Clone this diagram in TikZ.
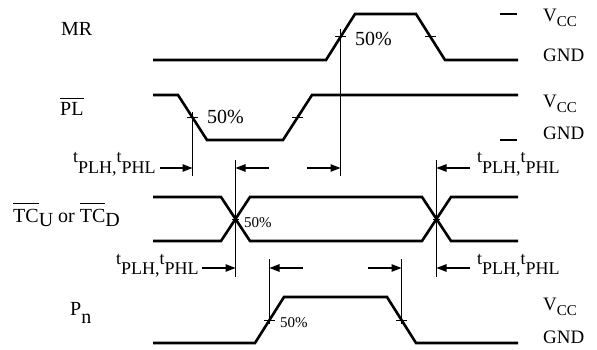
\documentclass[tikz,border=0pt]{standalone}
\usepackage{fontspec}
\setmainfont{Liberation Serif}
\usetikzlibrary{arrows.meta}
\newcommand\fs[1]{\fontsize{#1}{#1}\selectfont}
\newcommand\ovl[1]{\vbox{\hrule height 0.9pt\kern 4.5pt\hbox{#1}}}
\newcommand\tlab{\fs{18}t\raisebox{-10.5pt}{PLH,}t\raisebox{-10.5pt}{PHL}}
\newcommand\vcc{\fs{19}V\raisebox{-5pt}{\fs{15}CC}}
\begin{document}
\begin{tikzpicture}[x=1pt,y=-1pt,
  wave/.style={line width=2.6pt, line join=miter},
  refline/.style={line width=0.9pt},
  meas/.style={line width=1.1pt, -{Triangle[length=10pt,width=7.5pt]}},
  tickmark/.style={line width=1pt},
  lbl/.style={inner sep=0pt, anchor=base west},
]
\useasboundingbox (0,0) rectangle (597,350);

% waveforms
\draw[wave] (153,60) -- (326,60) -- (355,14) -- (416,14) -- (445,60) -- (518,60);
\draw[wave] (153,95) -- (178,95) -- (207,140) -- (283,140) -- (312,95) -- (518,95);
\draw[wave] (153,197) -- (221,197) -- (250,241) -- (422,241) -- (451,197) -- (518,197);
\draw[wave] (153,241) -- (221,241) -- (250,197) -- (422,197) -- (451,241) -- (518,241);
\draw[wave] (153,343) -- (255,343) -- (284,297) -- (387,297) -- (416,343) -- (518,343);

% 50% points
\coordinate (mrA) at (340.5,37);
\coordinate (mrB) at (430.5,37);
\coordinate (plA) at (192.5,117.5);
\coordinate (plB) at (297.5,117.5);
\coordinate (tcA) at (235.5,219);
\coordinate (tcB) at (436.5,219);
\coordinate (pnA) at (269.5,320);
\coordinate (pnB) at (401.5,320);

% ticks
\foreach \p in {mrA,mrB,plA,plB,pnA,pnB}
  \draw[tickmark] ([xshift=-5.5pt]\p) -- ([xshift=5.5pt]\p);
\foreach \p in {tcA,tcB}
  \draw[tickmark] ([xshift=-3.5pt]\p) -- ([xshift=3.5pt]\p);

% reference lines
\coordinate (v1t) at (192.5,112); \coordinate (v1b) at (192.5,176);
\coordinate (v2t) at (340.5,29);  \coordinate (v2b) at (340.5,176);
\coordinate (v3t) at (235.5,160); \coordinate (v3b) at (235.5,277);
\coordinate (v4t) at (436.5,160); \coordinate (v4b) at (436.5,277);
\coordinate (v5t) at (269.5,259); \coordinate (v5b) at (269.5,324);
\coordinate (v6t) at (401.5,259); \coordinate (v6b) at (401.5,324);
\foreach \i in {1,...,6} \draw[refline] (v\i t) -- (v\i b);

% measurement arrows
\coordinate (a1) at (160,168);  \coordinate (e1) at (192.5,168);
\coordinate (a2) at (269,168);  \coordinate (e2) at (235.5,168);
\coordinate (a3) at (307,168);  \coordinate (e3) at (340.5,168);
\coordinate (a4) at (470,168);  \coordinate (e4) at (436.5,168);
\coordinate (a5) at (202,268);  \coordinate (e5) at (235.5,268);
\coordinate (a6) at (303,268);  \coordinate (e6) at (269.5,268);
\coordinate (a7) at (368,268);  \coordinate (e7) at (401.5,268);
\coordinate (a8) at (470,268);  \coordinate (e8) at (436.5,268);
\foreach \i in {1,...,8} \draw[meas] (a\i) -- (e\i);

% level dashes
\coordinate (d1a) at (500,14);  \coordinate (d1b) at (517,14);
\coordinate (d2a) at (500,140); \coordinate (d2b) at (517,140);
\draw[line width=1.1pt] (d1a) -- (d1b);
\draw[line width=1.1pt] (d2a) -- (d2b);

% signal names
\node[lbl] (mr) at (61,36) {\fs{20}MR};
\node[lbl] (pl) at (60,116) {\fs{20}\ovl{PL}};
\node[lbl] (tc) at (13,222) {\fs{20}\ovl{TC}\raisebox{-5pt}{U} or \ovl{TC}\raisebox{-5pt}{D}};
\node[lbl] (pn) at (70,315) {\fs{20}P\raisebox{-8pt}{n}};

% level names
\node[lbl] (vc1) at (543,22)  {\vcc};
\node[lbl] (gn1) at (543,62)  {\fs{19}GND};
\node[lbl] (vc2) at (543,108) {\vcc};
\node[lbl] (gn2) at (543,140) {\fs{19}GND};
\node[lbl] (vc3) at (543,310) {\vcc};
\node[lbl] (gn3) at (543,343) {\fs{19}GND};

% 50% labels
\node[lbl] (p1) at (355,46)  {\fs{20}50\%};
\node[lbl] (p2) at (207,124) {\fs{20}50\%};
\node[lbl] (p3) at (244,227) {\fs{15}50\%};
\node[lbl] (p4) at (280,327) {\fs{15}50\%};

% timing labels
\node[lbl] (t1) at (73,163)  {\tlab};
\node[lbl] (t2) at (477,163) {\tlab};
\node[lbl] (t3) at (116,264) {\tlab};
\node[lbl] (t4) at (477,264) {\tlab};
\end{tikzpicture}
\end{document}
